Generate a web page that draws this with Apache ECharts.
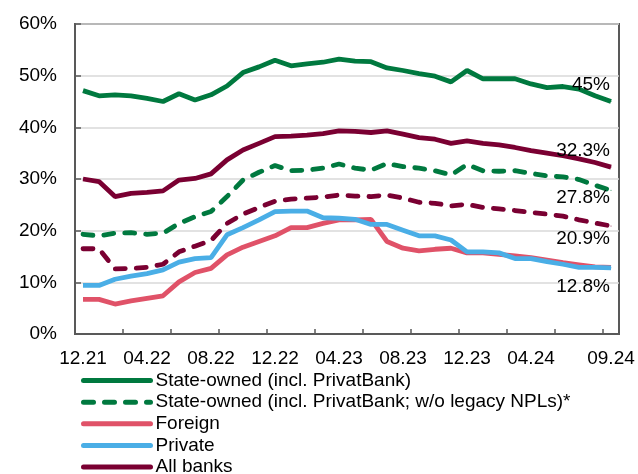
<!DOCTYPE html>
<html>
<head>
<meta charset="utf-8">
<script src="https://cdn.jsdelivr.net/npm/echarts@6/dist/echarts.min.js"></script>
<style>
html,body{margin:0;padding:0;background:#fff;}
#chart{width:638px;height:474px;}
</style>
</head>
<body>
<div id="chart"></div>
<script>
const categories = ['12.21','01.22','02.22','03.22','04.22','05.22','06.22','07.22','08.22','09.22','10.22','11.22',
  '12.22','01.23','02.23','03.23','04.23','05.23','06.23','07.23','08.23','09.23','10.23','11.23',
  '12.23','01.24','02.24','03.24','04.24','05.24','06.24','07.24','08.24','09.24'];

const stateOwned = [47.1,46.1,46.3,46.1,45.6,45.0,46.5,45.3,46.3,48.0,50.6,51.7,53.0,51.9,52.3,52.6,53.2,52.8,52.7,51.5,51.0,50.4,49.9,48.8,51.0,49.4,49.4,49.4,48.4,47.7,47.9,47.4,46.1,45.0];
const stateOwnedNoLegacy = [19.3,19.0,19.5,19.6,19.3,19.5,21.4,22.7,23.7,26.6,29.8,31.3,32.6,31.6,31.7,32.1,32.9,32.1,31.7,33.0,32.4,32.1,31.6,30.8,32.8,31.6,31.5,31.6,31.1,30.6,30.4,29.9,28.8,27.8];
const foreign = [6.7,6.7,5.8,6.4,6.9,7.4,10.1,11.9,12.7,15.3,16.8,17.9,19.0,20.6,20.6,21.4,22.1,22.1,22.2,17.9,16.6,16.1,16.4,16.6,15.7,15.7,15.4,15.1,14.8,14.3,13.8,13.4,13.0,12.9];
const privateBanks = [9.4,9.4,10.6,11.2,11.7,12.4,13.9,14.6,14.8,19.2,20.6,22.1,23.7,23.8,23.8,22.5,22.4,22.2,21.2,21.2,20.1,19.0,19.0,18.2,15.9,15.9,15.7,14.6,14.6,14.0,13.5,12.9,12.9,12.8];
const allBanks = [30.0,29.5,26.6,27.2,27.4,27.7,29.8,30.1,31.0,33.7,35.6,36.9,38.2,38.3,38.5,38.8,39.3,39.2,39.0,39.3,38.7,38.0,37.7,36.9,37.4,36.9,36.6,36.1,35.5,35.0,34.5,33.9,33.2,32.3];
const allBanksNoLegacy = [16.5,16.5,12.6,12.7,12.9,13.5,15.9,17.0,18.1,21.4,23.2,24.5,25.7,26.1,26.3,26.5,26.9,26.7,26.6,26.9,26.3,25.5,25.3,24.8,25.1,24.5,24.2,23.9,23.5,23.2,22.8,22.1,21.5,20.9];

const endLabels = ['45%','27.8%','','12.8%','32.3%','20.9%'];
const seriesNames = ['State-owned (incl. PrivatBank)','State-owned (incl. PrivatBank; w/o legacy NPLs)*','Foreign','Private','All banks','All banks (w/o legacy NPLs)'];

const FONT = '"Liberation Sans", Arial, sans-serif';
const GREEN = '#00793F', MAROON = '#7A0032', PINK = '#E05268', BLUE = '#4AAEE6';

function withEndLabel(values, text, pos, offset) {
  return values.map((v, i) => {
    if (i !== values.length - 1 || !text) return v;
    return {
      value: v,
      symbol: 'circle',
      symbolSize: 1,
      label: {
        show: true,
        formatter: text,
        position: pos,
        align: 'right',
        offset: offset,
        fontSize: 19,
        fontFamily: FONT,
        color: '#000'
      }
    };
  });
}

function mkSeries(name, values, color, dashed, label, pos, offset, z) {
  return {
    name: name,
    type: 'line',
    data: withEndLabel(values, label, pos, offset),
    symbol: 'none',
    z: z,
    silent: true,
    lineStyle: {
      color: color,
      width: 4.8,
      type: dashed ? [10, 11] : 'solid',
      cap: dashed ? 'round' : 'butt'
    },
    itemStyle: { color: color },
    emphasis: { disabled: true }
  };
}

const chart = echarts.init(document.getElementById('chart'), null, { renderer: 'canvas' });
chart.setOption({
  animation: false,
  backgroundColor: '#fff',
  grid: {
    left: 75, top: 24, right: 19, bottom: 140,
    show: true, borderColor: '#595959', borderWidth: 2, backgroundColor: 'transparent'
  },
  legend: {
    orient: 'vertical',
    left: 81,
    top: 371,
    height: 150,
    itemWidth: 67,
    itemHeight: 10,
    itemGap: 2.65,
    padding: 0,
    data: seriesNames.slice(0, 5),
    itemStyle: { opacity: 0 },
    lineStyle: { width: 5, cap: 'round' },
    textStyle: { fontSize: 19, fontFamily: FONT, color: '#000', lineHeight: 19 },
    selectedMode: false
  },
  xAxis: {
    type: 'category',
    data: categories,
    boundaryGap: true,
    axisLine: { show: true, lineStyle: { color: '#595959', width: 2 } },
    axisTick: {
      show: true, inside: true, length: 5,
      interval: (i) => i % 3 === 0,
      lineStyle: { color: '#595959', width: 1.5 }
    },
    axisLabel: {
      interval: (i) => (i % 4 === 0 && i !== 32) || i === 33,
      fontSize: 19, fontFamily: FONT, color: '#000', margin: 15
    },
    splitLine: { show: false }
  },
  yAxis: {
    type: 'value',
    min: 0, max: 60, interval: 10,
    axisLine: { show: true, lineStyle: { color: '#595959', width: 2 } },
    axisTick: { show: true, inside: true, length: 6, lineStyle: { color: '#595959', width: 1.5 } },
    axisLabel: { formatter: '{value}%', fontSize: 19, fontFamily: FONT, color: '#000', margin: 18 },
    splitLine: { show: true, lineStyle: { color: '#d9d9d9', width: 1.5 } }
  },
  series: [
    mkSeries(seriesNames[0], stateOwned, GREEN, false, endLabels[0], 'top', [-1, -1.5], 5),
    mkSeries(seriesNames[1], stateOwnedNoLegacy, GREEN, true, endLabels[1], 'bottom', [-1, -8], 5),
    mkSeries(seriesNames[2], foreign, PINK, false, endLabels[2], 'bottom', [0, 0], 5),
    mkSeries(seriesNames[3], privateBanks, BLUE, false, endLabels[3], 'bottom', [-1, 4], 6),
    mkSeries(seriesNames[4], allBanks, MAROON, false, endLabels[4], 'top', [-1, -1], 5),
    mkSeries(seriesNames[5], allBanksNoLegacy, MAROON, true, endLabels[5], 'bottom', [-1, -2], 5)
  ]
});
</script>
</body>
</html>
